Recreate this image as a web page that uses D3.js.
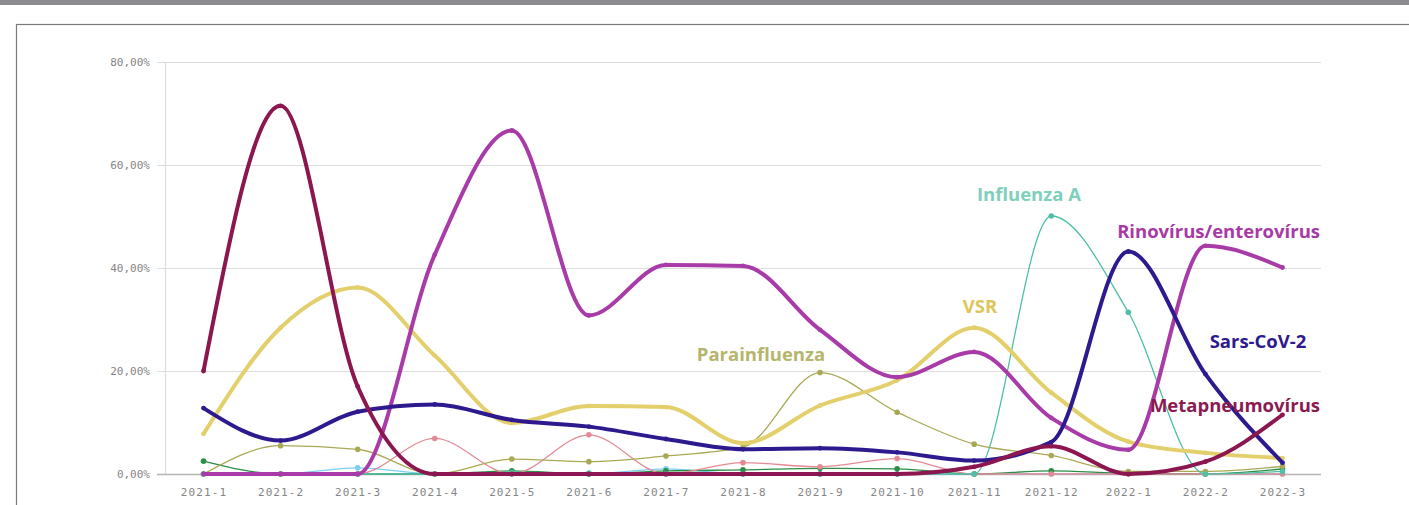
<!DOCTYPE html>
<html>
<head>
<meta charset="utf-8">
<script src="https://cdn.jsdelivr.net/npm/d3@7"></script>
<style>
  body { margin: 0; background: #fff; }
  svg { display: block; }
</style>
</head>
<body>
<div id="chart"></div>
<script>
// Months on the x axis
var months = ["2021-1", "2021-2", "2021-3", "2021-4", "2021-5", "2021-6", "2021-7", "2021-8",
              "2021-9", "2021-10", "2021-11", "2021-12", "2022-1", "2022-2", "2022-3"];

// Y tick values (percent)
var yTicks = [0, 20, 40, 60, 80];

// Series values, percent positivity per month
var metapneumo   = [20, 71.5, 17, 0, 0, 0, 0, 0, 0, 0, 1.4, 5.4, 0, 2.4, 11.5];
var rinovirus    = [0, 0, 0, 42.6, 66.7, 30.8, 40.6, 40.4, 28, 18.8, 23.7, 10.9, 4.7, 44.3, 40.1];
var vsr          = [7.8, 28.4, 36.2, 23, 9.9, 13.2, 13, 6, 13.3, 18.2, 28.4, 15.8, 6.3, 4.1, 3.1];
var sarsCov2     = [12.8, 6.5, 12.1, 13.5, 10.5, 9.2, 6.8, 4.8, 5, 4.2, 2.6, 6.2, 43.2, 19.4, 2.2];
var influenzaA   = [0, 0, 0, 0, 0.3, 0.2, 0, 0, 0, 0, 0, 50.1, 31.4, 0, 0.5];
var parainfluenza= [0, 5.5, 4.8, 0, 2.9, 2.4, 3.5, 5.2, 19.7, 12, 5.8, 3.6, 0.5, 0.5, 1.5];
var pinkSeries   = [0, 0, 0, 6.9, 0, 7.6, 0, 2.2, 1.4, 3, 0, 0, 0, 0, 0];
var greenSeries  = [2.5, 0, 0, 0, 0.6, 0, 0.6, 0.8, 1.1, 1, 0, 0.6, 0.1, 0, 1];
var blueSeries   = [0, 0, 1.2, 0, 0, 0, 1, 0, 0, 0, 0, 0, 0, 0, 0];

// Drawing order: thin lines first, thick on top
var series = [
  {name: "azul",          values: blueSeries,    color: "#7ccdf2", width: 1.3, r: 2.8},
  {name: "verde",         values: greenSeries,   color: "#2a8f45", width: 1.3, r: 2.8},
  {name: "rosa",          values: pinkSeries,    color: "#e38a95", width: 1.3, r: 2.8},
  {name: "Parainfluenza", values: parainfluenza, color: "#a9a955", width: 1.3, r: 2.8},
  {name: "Influenza A",   values: influenzaA,    color: "#4fbfa8", width: 1.3, r: 2.8},
  {name: "VSR",           values: vsr,           color: "#e3cf6b", width: 4,   r: 2.4},
  {name: "Rinovírus",     values: rinovirus,     color: "#a83ba8", width: 4,   r: 2.4},
  {name: "Sars-CoV-2",    values: sarsCov2,      color: "#2e1a8e", width: 4,   r: 2.4},
  {name: "Metapneumo",    values: metapneumo,    color: "#8b1650", width: 4,   r: 2.4}
];

// Labels placed next to the curves
var labels = [
  {text: "Influenza A",           color: "#7fcfbd", x: 1029, y: 201, anchor: "middle"},
  {text: "Rinovírus/enterovírus", color: "#a83aa6", x: 1320, y: 238, anchor: "end"},
  {text: "VSR",                   color: "#dcc65c", x: 980,  y: 313, anchor: "middle"},
  {text: "Parainfluenza",         color: "#b6b56c", x: 761,  y: 361, anchor: "middle"},
  {text: "Sars-CoV-2",            color: "#2e1a8e", x: 1258, y: 348, anchor: "middle"},
  {text: "Metapneumovírus",       color: "#8b1a50", x: 1320, y: 412, anchor: "end"}
];

var W = 1409, H = 505;
var plot = {left: 165, right: 1321, top: 62, bottom: 474};

var svg = d3.select("#chart").append("svg")
  .attr("width", W)
  .attr("height", H);

// Grey band at top and the frame
svg.append("rect").attr("x", 0).attr("y", 0).attr("width", W).attr("height", 5).attr("fill", "#8c8c90");
svg.append("rect")
  .attr("x", 16.5).attr("y", 24.5)
  .attr("width", W + 10).attr("height", H)
  .attr("fill", "none").attr("stroke", "#7a7a7a").attr("stroke-width", 1.2);

var x = d3.scalePoint()
  .domain(months)
  .range([plot.left, plot.right])
  .padding(0.5);

var y = d3.scaleLinear()
  .domain([0, 80])
  .range([plot.bottom, plot.top]);

// Gridlines
svg.append("g").selectAll("line")
  .data(yTicks.filter(function(d) { return d > 0; }))
  .enter().append("line")
    .attr("x1", plot.left - 8).attr("x2", plot.right)
    .attr("y1", function(d) { return y(d) + 0.5; })
    .attr("y2", function(d) { return y(d) + 0.5; })
    .attr("stroke", "#dddddd").attr("stroke-width", 1.2);

// Y axis line
svg.append("line")
  .attr("x1", plot.left + 0.5).attr("x2", plot.left + 0.5)
  .attr("y1", plot.top).attr("y2", plot.bottom)
  .attr("stroke", "#dddddd").attr("stroke-width", 1.2);

// Baseline
svg.append("line")
  .attr("x1", plot.left - 8).attr("x2", plot.right)
  .attr("y1", plot.bottom + 0.5).attr("y2", plot.bottom + 0.5)
  .attr("stroke", "#b5b5b5").attr("stroke-width", 1.3);

// Y axis labels
var yAxis = svg.append("g")
  .attr("transform", "translate(" + plot.left + ",0)")
  .call(d3.axisLeft(y)
    .tickValues(yTicks)
    .tickSize(0)
    .tickPadding(15)
    .tickFormat(function(d) { return d.toFixed(2).replace(".", ",") + "%"; }));
yAxis.select(".domain").remove();
yAxis.selectAll("text")
  .attr("fill", "#858585")
  .style("font-family", "'DejaVu Sans Mono', monospace")
  .style("font-size", "11px");

// X axis labels
var xAxis = svg.append("g")
  .attr("transform", "translate(0," + plot.bottom + ")")
  .call(d3.axisBottom(x).tickSize(0).tickPadding(14));
xAxis.select(".domain").remove();
xAxis.selectAll("text")
  .attr("fill", "#858585")
  .style("font-family", "'DejaVu Sans Mono', monospace")
  .style("font-size", "11px")
  .style("letter-spacing", "1.1px");

// Lines and points
var line = d3.line()
  .x(function(d, i) { return x(months[i]); })
  .y(function(d) { return y(d); })
  .curve(d3.curveMonotoneX);

series.forEach(function(s) {
  var g = svg.append("g");
  g.append("path")
    .datum(s.values)
    .attr("d", line)
    .attr("fill", "none")
    .attr("stroke", s.color)
    .attr("stroke-width", s.width)
    .attr("stroke-linejoin", "round")
    .attr("stroke-linecap", "round");
  g.selectAll("circle")
    .data(s.values)
    .enter().append("circle")
      .attr("cx", function(d, i) { return x(months[i]); })
      .attr("cy", function(d) { return y(d); })
      .attr("r", s.r)
      .attr("fill", s.color);
});

// Series labels
svg.append("g").selectAll("text")
  .data(labels)
  .enter().append("text")
    .attr("x", function(d) { return d.x; })
    .attr("y", function(d) { return d.y; })
    .attr("text-anchor", function(d) { return d.anchor; })
    .attr("fill", function(d) { return d.color; })
    .style("font-family", "'Open Sans', sans-serif")
    .style("font-weight", "700")
    .style("font-size", "18.5px")
    .text(function(d) { return d.text; });
</script>
</body>
</html>
